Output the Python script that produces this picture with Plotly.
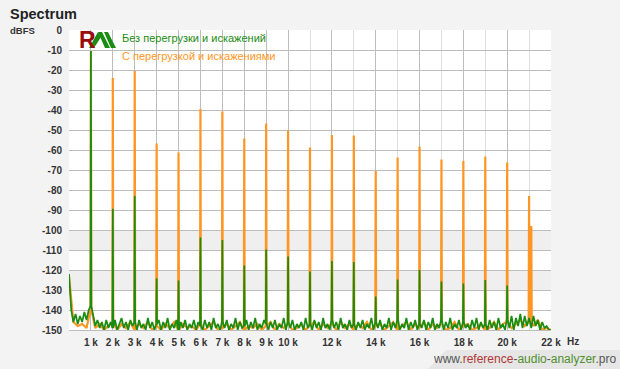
import plotly.graph_objects as go

# ---------------- data ----------------
harm_freqs = [1000, 2000, 3000, 4000, 5000, 6000, 7000, 8000, 9000, 10000,
              11000, 12000, 13000, 14000, 15000, 16000, 17000, 18000, 19000, 20000,
              21000, 21100]
clean_peaks = [-10.5, -89.4, -83.0, -124.2, -125.3, -103.7, -105.0, -117.7, -109.8, -113.3,
               -120.7, -115.5, -116.0, -133.2, -124.7, -120.0, -125.8, -126.7, -125.0, -127.8]
dist_peaks = [-10.5, -24.0, -20.5, -56.7, -61.2, -39.5, -40.8, -54.3, -46.7, -50.2,
              -58.8, -52.5, -52.8, -70.5, -63.7, -58.3, -64.8, -65.5, -63.3, -66.2,
              -83.0, -98.0]

# noise floor, green trace, 100 Hz steps 0..22000 Hz
clean_noise_step = 100
clean_noise = [
    -122, -140, -146, -142, -147, -143, -146, -141, -145, -140,
    -138, -142, -148, -145, -149, -146, -150, -145, -149, -146,
    -149, -145, -150, -147, -144, -149, -146, -150, -145, -148,
    -146, -150, -145, -149, -147, -150, -144, -149, -146, -150,
    -147, -145, -150, -146, -149, -144, -150, -147, -149, -145,
    -150, -146, -149, -145, -150, -147, -149, -145, -150, -146,
    -148, -150, -145, -149, -146, -150, -144, -149, -147, -150,
    -146, -149, -145, -150, -147, -149, -144, -150, -146, -149,
    -148, -145, -150, -146, -149, -144, -150, -147, -149, -145,
    -147, -150, -146, -149, -145, -150, -147, -149, -144, -150,
    -146, -149, -145, -150, -147, -149, -146, -150, -144, -149,
    -147, -150, -145, -149, -146, -150, -144, -149, -147, -150,
    -145, -149, -146, -150, -144, -149, -147, -150, -145, -149,
    -147, -150, -146, -149, -145, -150, -147, -149, -144, -150,
    -146, -149, -145, -150, -147, -149, -144, -150, -146, -149,
    -145, -150, -147, -149, -144, -150, -146, -149, -145, -150,
    -147, -149, -145, -150, -146, -149, -144, -150, -147, -149,
    -145, -150, -146, -149, -144, -150, -147, -149, -145, -150,
    -146, -149, -147, -150, -145, -149, -144, -150, -146, -149,
    -147, -150, -145, -149, -146, -150, -144, -149, -147, -150,
    -145, -149, -143, -150, -144, -148, -142, -149, -143, -148,
    -144, -149, -143, -148, -145, -150, -146, -149, -148, -150,
    -150,
]

# noise floor, orange trace, 200 Hz steps 0..22000 Hz
dist_noise_step = 200
dist_noise = [
    -123, -146, -148, -147, -149,
    -140, -149, -147, -150, -148,
    -146, -150, -147, -149, -146,
    -150, -147, -149, -146, -150,
    -148, -150, -147, -149, -146,
    -150, -147, -149, -148, -150,
    -147, -150, -148, -146, -150,
    -149, -147, -150, -148, -146,
    -150, -148, -149, -147, -150,
    -148, -146, -150, -147, -149,
    -147, -150, -149, -147, -150,
    -148, -146, -150, -147, -149,
    -147, -150, -146, -149, -147,
    -150, -147, -149, -146, -150,
    -148, -147, -150, -148, -146,
    -150, -148, -146, -150, -147,
    -149, -146, -150, -147, -149,
    -147, -150, -149, -146, -150,
    -148, -147, -150, -149, -147,
    -150, -149, -146, -150, -147,
    -146, -149, -147, -145, -148,
    -146, -148, -145, -150, -149,
    -150,
]

y_ticks = list(range(0, -151, -10))
x_tickvals = [1000, 2000, 3000, 4000, 5000, 6000, 7000, 8000, 9000, 10000,
              12000, 14000, 16000, 18000, 20000, 22000]
x_ticktext = ["1 k", "2 k", "3 k", "4 k", "5 k", "6 k", "7 k", "8 k", "9 k", "10 k",
              "12 k", "14 k", "16 k", "18 k", "20 k", "22 k"]


def build_spectrum(noise, step, freqs, peaks):
    nf = [i * step for i in range(len(noise))]
    pts = []
    for f, v in zip(nf, noise):
        if all(abs(f - h) > 40 for h in freqs[:len(peaks)]):
            pts.append((f, v))
    for h, p in zip(freqs, peaks):
        idx = min(range(len(nf)), key=lambda i: abs(nf[i] - h))
        base = noise[idx]
        pts += [(h - 20, base), (h, p), (h + 20, base)]
    pts.sort()
    return [a for a, _ in pts], [b for _, b in pts]


gx, gy = build_spectrum(clean_noise, clean_noise_step, harm_freqs, clean_peaks)
ox, oy = build_spectrum(dist_noise, dist_noise_step, harm_freqs, dist_peaks)

GREEN = "#1b8c12"
ORANGE = "#ff9624"

fig = go.Figure()
fig.add_trace(go.Scatter(x=ox, y=oy, mode="lines", line=dict(color=ORANGE, width=2.2),
                         hoverinfo="skip", showlegend=False))
fig.add_trace(go.Scatter(x=gx, y=gy, mode="lines", line=dict(color=GREEN, width=1.7),
                         hoverinfo="skip", showlegend=False))

W, H = 620, 369
L, R, T, B = 69, 69, 30, 39
PW, PH = W - L - R, H - T - B


def px(x):
    return (x - L) / PW


def py(y):
    return (T + PH - y) / PH


shapes = []
for y0, y1 in [(-110, -100), (-130, -120)]:
    shapes.append(dict(type="rect", xref="paper", yref="y", x0=0, x1=1, y0=y0, y1=y1,
                       fillcolor="#efefef", line=dict(width=0), layer="below"))


def poly(points, color):
    d = "M " + " L ".join(f"{px(a):.5f},{py(b):.5f}" for a, b in points) + " Z"
    return dict(type="path", xref="paper", yref="paper", path=d, fillcolor=color,
                line=dict(width=0), layer="above")


# logo "AA" strokes
shapes.append(poly([(89, 48), (94, 48), (101, 37), (98, 32)], GREEN))
shapes.append(poly([(98, 32), (102, 32), (110, 48), (105, 48)], GREEN))
shapes.append(poly([(104, 32), (108, 32), (116, 48), (111, 48)], GREEN))

# footer band
shapes.append(dict(type="path", xref="paper", yref="paper",
                   path=f"M {px(428):.5f},{py(369):.5f} L {px(446):.5f},{py(350):.5f} "
                        f"L {px(620):.5f},{py(350):.5f} L {px(620):.5f},{py(369):.5f} Z",
                   fillcolor="#e6e6e6", line=dict(width=0), layer="below"))

annotations = [
    dict(text="Spectrum", xref="paper", yref="paper", x=px(8), y=py(14), xanchor="left",
         yanchor="middle", showarrow=False,
         font=dict(family="Liberation Sans", size=14.5, color="#222", weight="bold")),
    dict(text="dBFS", xref="paper", yref="paper", x=px(8), y=py(31), xanchor="left",
         yanchor="middle", showarrow=False,
         font=dict(family="Liberation Sans", size=9.5, color="#333", weight="bold")),
    dict(text="Hz", xref="paper", yref="paper", x=px(565), y=py(341), xanchor="left",
         yanchor="middle", showarrow=False,
         font=dict(family="Liberation Sans", size=10, color="#333", weight="bold")),
    dict(text="R", xref="paper", yref="paper", x=px(87), y=py(40), xanchor="center",
         yanchor="middle", showarrow=False,
         font=dict(family="Liberation Sans", size=23, color="#9c0b0b", weight="bold")),
    dict(text="Без перегрузки и искажений", xref="paper", yref="paper", x=px(120), y=py(38),
         xanchor="left", yanchor="middle", showarrow=False,
         font=dict(family="Liberation Sans", size=11, color=GREEN)),
    dict(text="С перегрузкой и искажениями", xref="paper", yref="paper", x=px(120), y=py(56),
         xanchor="left", yanchor="middle", showarrow=False,
         font=dict(family="Liberation Sans", size=11, color=ORANGE)),
    dict(text="<span style='color:#555'>www.</span><span style='color:#b03636'>reference</span>"
              "<span style='color:#555'>-</span><span style='color:#4f8f2e'>audio</span>"
              "<span style='color:#555'>-</span><span style='color:#4f8f2e'>analyzer</span>"
              "<span style='color:#555'>.pro</span>",
         xref="paper", yref="paper", x=px(618), y=py(359), xanchor="right", yanchor="middle",
         showarrow=False, font=dict(family="Liberation Sans", size=12)),
]

fig.update_layout(
    width=W, height=H,
    margin=dict(l=L, r=R, t=T, b=B, pad=0),
    paper_bgcolor="#f3f3f3",
    plot_bgcolor="#ffffff",
    shapes=shapes,
    annotations=annotations,
    xaxis=dict(range=[0, 22000], tickmode="array", tickvals=x_tickvals, ticktext=x_ticktext,
               showgrid=True, gridcolor="#bdbdbd", gridwidth=1, zeroline=False,
               showline=True, linecolor="#bdbdbd", linewidth=1,
               ticks="outside", ticklen=3, tickcolor="rgba(0,0,0,0)",
               minor=dict(dtick=1000, tick0=0, showgrid=True, gridcolor="#dedede", gridwidth=1),
               tickfont=dict(family="Liberation Sans", size=10, color="#333", weight="bold"),
               fixedrange=True),
    yaxis=dict(range=[-150, 0], tickmode="array", tickvals=y_ticks,
               ticktext=[str(v) for v in y_ticks],
               showgrid=True, gridcolor="#bdbdbd", gridwidth=1, zeroline=False,
               ticks="outside", ticklen=4, tickcolor="rgba(0,0,0,0)",
               tickfont=dict(family="Liberation Sans", size=10, color="#333", weight="bold"),
               fixedrange=True),
)

fig.write_html("out.html", config={"displayModeBar": False})
